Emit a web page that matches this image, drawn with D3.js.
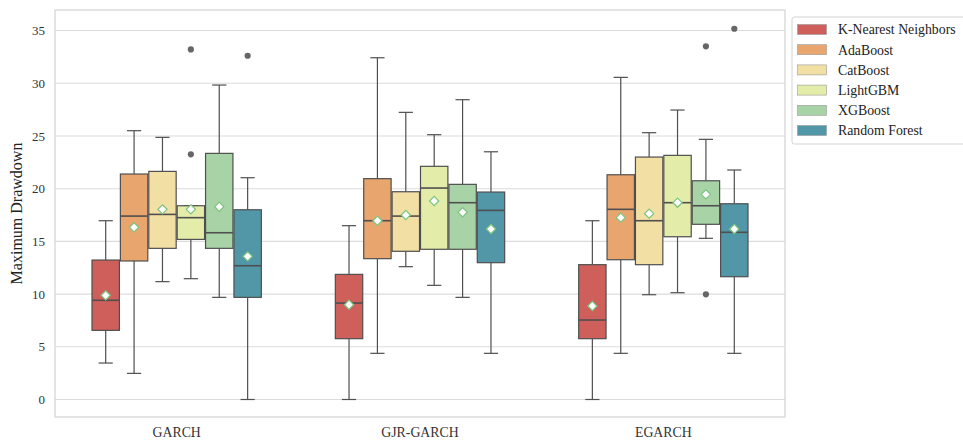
<!DOCTYPE html>
<html>
<head>
<meta charset="utf-8">
<script src="https://cdn.jsdelivr.net/npm/d3@7"></script>
<style>
  html, body { margin: 0; padding: 0; background: #fff; }
  svg { display: block; font-family: "Liberation Serif", "Times New Roman", serif; }
</style>
</head>
<body>
<svg id="chart" width="963" height="445"></svg>
<script>
// Volatility model families on the x axis, learners as the hue groups
const families = ["GARCH", "GJR-GARCH", "EGARCH"];
const models = ["K-Nearest Neighbors", "AdaBoost", "CatBoost", "LightGBM", "XGBoost", "Random Forest"];
const colors = ["#cf5f5a", "#e8a56e", "#f2dfa4", "#e3eda9", "#a8d3a7", "#5197a8"];

// Box statistics: one row per model, one column per family
const whiskerLow = [
  [3.46, 0.0, 0.0],
  [2.48, 4.38, 4.38],
  [11.18, 12.6, 9.94],
  [11.46, 10.83, 10.13],
  [9.69, 9.69, 15.29],
  [0.0, 4.38, 4.38]
];
const q1 = [
  [6.56, 5.77, 5.77],
  [13.14, 13.36, 13.26],
  [14.34, 14.06, 12.79],
  [15.19, 14.25, 15.44],
  [14.34, 14.25, 16.62],
  [9.69, 12.98, 11.65]
];
const median = [
  [9.41, 9.15, 7.54],
  [17.4, 16.96, 18.04],
  [17.56, 17.4, 16.96],
  [17.25, 20.06, 18.67],
  [15.82, 18.67, 18.38],
  [12.69, 17.94, 15.86]
];
const q3 = [
  [13.23, 11.87, 12.79],
  [21.39, 20.95, 21.32],
  [21.64, 19.71, 23.0],
  [18.38, 22.12, 23.16],
  [23.35, 20.41, 20.75],
  [18.0, 19.68, 18.57]
];
const whiskerHigh = [
  [16.96, 16.49, 16.96],
  [25.5, 32.42, 30.56],
  [24.87, 27.24, 25.31],
  [18.38, 25.12, 27.46],
  [29.83, 28.44, 24.68],
  [21.04, 23.5, 21.77]
];
const means = [
  [9.88, 8.99, 8.87],
  [16.33, 16.96, 17.25],
  [18.04, 17.5, 17.63],
  [18.04, 18.83, 18.67],
  [18.29, 17.76, 19.46],
  [13.58, 16.17, 16.17]
];
// Outlying points: [family index, model index, value]
const outliers = [
  [0, 3, 33.21], [0, 3, 23.26],
  [0, 5, 32.61],
  [2, 4, 33.5], [2, 4, 9.98],
  [2, 5, 35.17]
];
const yTicks = [0, 5, 10, 15, 20, 25, 30, 35];

const svg = d3.select("#chart");
const m = { left: 55, right: 178, top: 10, bottom: 28 };
const W = 963, H = 445;
const pw = W - m.left - m.right, ph = H - m.top - m.bottom;

const x = d3.scaleBand().domain(families).range([m.left, m.left + pw]).padding(0);
const hue = d3.scaleBand().domain(models)
  .range([-x.bandwidth() * 0.35, x.bandwidth() * 0.35]).padding(0);
const y = d3.scaleLinear().domain([-1.66, 36.95]).range([m.top + ph, m.top]);

const lineCol = "#4f4f4f";
const gridCol = "#dcdcdc";

// grid
svg.append("g").selectAll("line").data(yTicks).join("line")
  .attr("x1", m.left).attr("x2", m.left + pw)
  .attr("y1", d => y(d)).attr("y2", d => y(d))
  .attr("stroke", gridCol).attr("stroke-width", 1.1);

// frame
svg.append("rect").attr("x", m.left).attr("y", m.top)
  .attr("width", pw).attr("height", ph)
  .attr("fill", "none").attr("stroke", "#d6d6d6").attr("stroke-width", 1.3);

// y axis
const yAxis = svg.append("g").attr("transform", `translate(${m.left},0)`)
  .call(d3.axisLeft(y).tickValues(yTicks).tickSize(0).tickPadding(10));
yAxis.select(".domain").remove();
yAxis.selectAll("text").attr("font-size", 13).attr("fill", "#333")
  .attr("font-family", "Liberation Serif");

// x axis
const xAxis = svg.append("g").attr("transform", `translate(0,${m.top + ph})`)
  .call(d3.axisBottom(x).tickSize(0).tickPadding(10));
xAxis.select(".domain").remove();
xAxis.selectAll("text").attr("font-size", 13.8).attr("fill", "#333")
  .attr("font-family", "Liberation Serif");

// y label
svg.append("text")
  .attr("transform", `translate(22,${m.top + ph / 2}) rotate(-90)`)
  .attr("text-anchor", "middle").attr("font-size", 16).attr("fill", "#222")
  .text("Maximum Drawdown");

// boxes
const bw = hue.bandwidth();
const boxes = [];
models.forEach((mod, i) => families.forEach((fam, j) => boxes.push({ i, j, mod, fam })));

const g = svg.append("g");
boxes.forEach(b => {
  const cx = x(b.fam) + x.bandwidth() / 2 + hue(b.mod) + bw / 2;
  const gg = g.append("g");
  // whiskers
  gg.append("line").attr("x1", cx).attr("x2", cx)
    .attr("y1", y(q3[b.i][b.j])).attr("y2", y(whiskerHigh[b.i][b.j]))
    .attr("stroke", lineCol).attr("stroke-width", 1.2);
  gg.append("line").attr("x1", cx).attr("x2", cx)
    .attr("y1", y(q1[b.i][b.j])).attr("y2", y(whiskerLow[b.i][b.j]))
    .attr("stroke", lineCol).attr("stroke-width", 1.2);
  [whiskerHigh[b.i][b.j], whiskerLow[b.i][b.j]].forEach(v => {
    gg.append("line").attr("x1", cx - bw / 4).attr("x2", cx + bw / 4)
      .attr("y1", y(v)).attr("y2", y(v))
      .attr("stroke", lineCol).attr("stroke-width", 1.2);
  });
  // box
  gg.append("rect")
    .attr("x", cx - bw / 2 + 0.5).attr("width", bw - 1)
    .attr("y", y(q3[b.i][b.j])).attr("height", y(q1[b.i][b.j]) - y(q3[b.i][b.j]))
    .attr("fill", colors[b.i]).attr("stroke", lineCol).attr("stroke-width", 1.2);
  // median
  gg.append("line").attr("x1", cx - bw / 2 + 0.5).attr("x2", cx + bw / 2 - 0.5)
    .attr("y1", y(median[b.i][b.j])).attr("y2", y(median[b.i][b.j]))
    .attr("stroke", lineCol).attr("stroke-width", 1.6);
  // mean marker
  const my = y(means[b.i][b.j]);
  gg.append("path")
    .attr("d", `M${cx},${my - 4.6}L${cx + 4.6},${my}L${cx},${my + 4.6}L${cx - 4.6},${my}Z`)
    .attr("fill", "#fff").attr("stroke", "#7cc47f").attr("stroke-width", 1.2);
});

// outliers
g.selectAll("circle.out").data(outliers).join("circle")
  .attr("class", "out")
  .attr("cx", d => x(families[d[0]]) + x.bandwidth() / 2 + hue(models[d[1]]) + bw / 2)
  .attr("cy", d => y(d[2]))
  .attr("r", 3.1).attr("fill", "#666");

// legend
const lg = svg.append("g").attr("transform", "translate(792,17)");
lg.append("rect").attr("width", 180).attr("height", 127).attr("rx", 2.5)
  .attr("fill", "#fff").attr("stroke", "#d2d2d2").attr("stroke-width", 1);
models.forEach((mod, i) => {
  const ly = 12.5 + i * 20.2;
  lg.append("rect").attr("x", 5.5).attr("y", ly - 5).attr("width", 29).attr("height", 10)
    .attr("fill", colors[i]).attr("stroke", "#9a9a9a").attr("stroke-width", 0.6);
  lg.append("text").attr("x", 46).attr("y", ly).attr("dy", "0.35em")
    .attr("font-size", 13.8).attr("fill", "#222").text(mod);
});
</script>
</body>
</html>
